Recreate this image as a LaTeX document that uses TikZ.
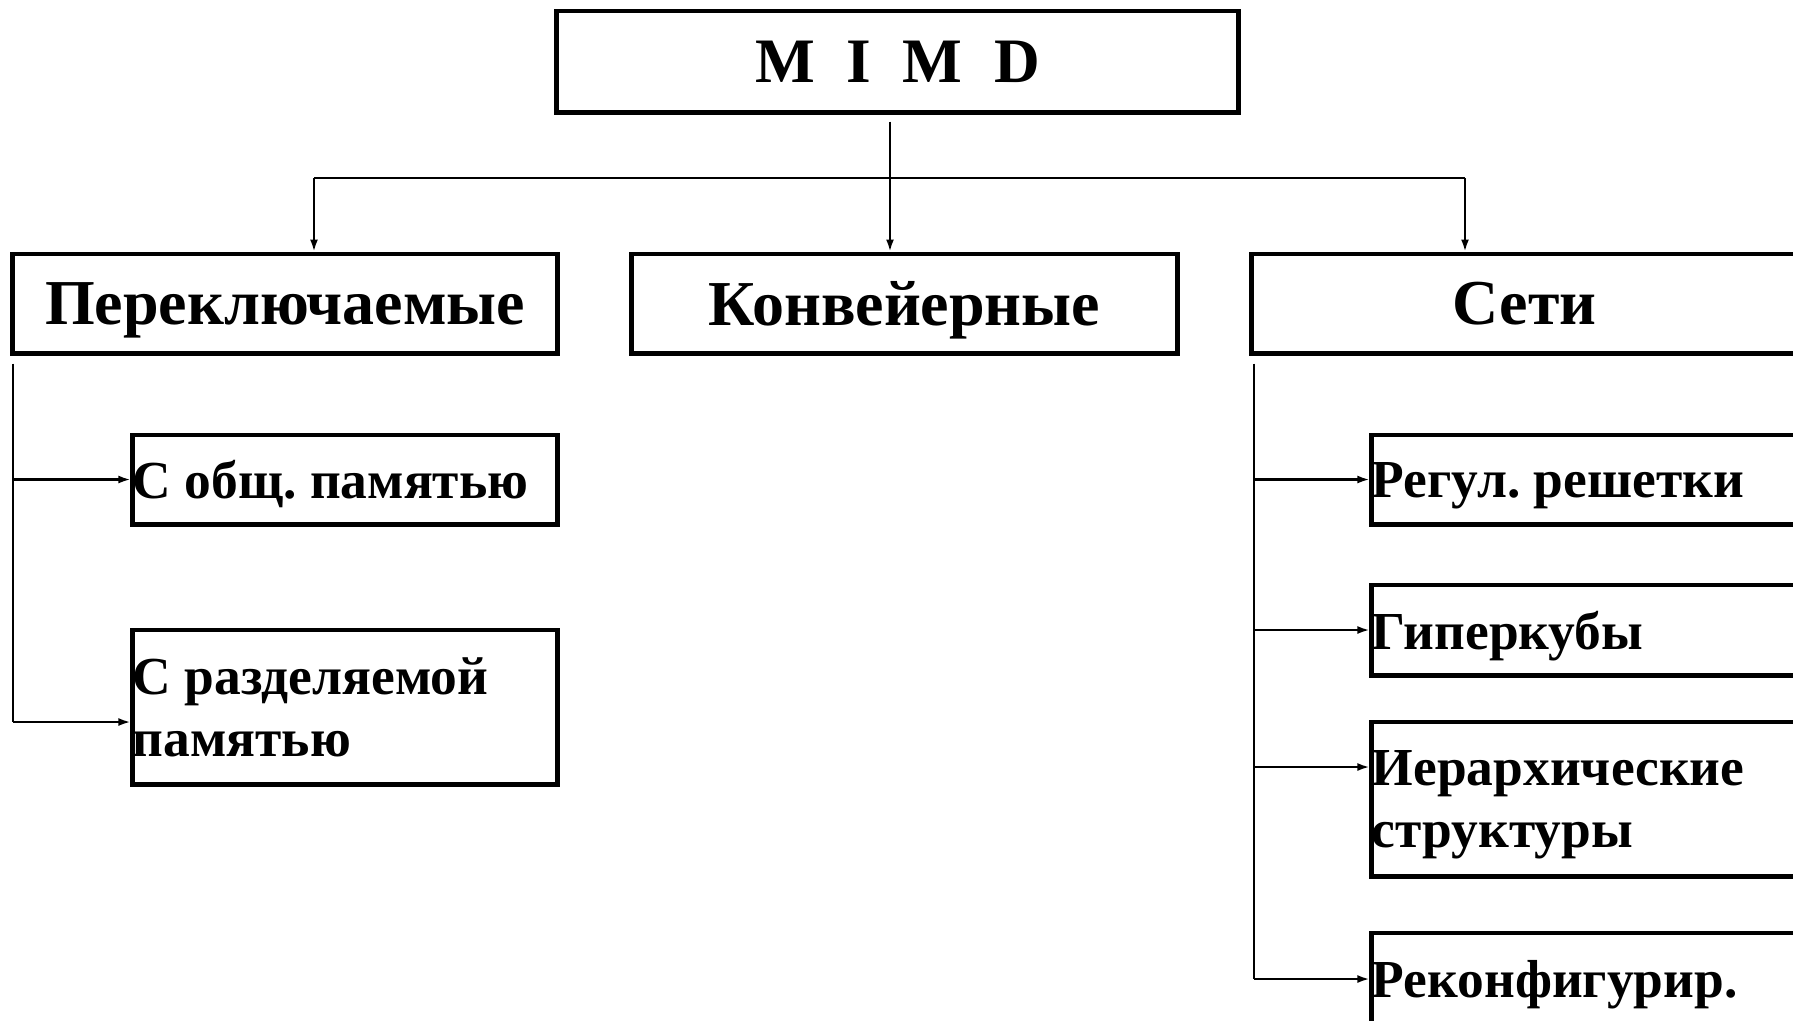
\documentclass[tikz,border=0pt]{standalone}
\usepackage{fontspec}
\setmainfont{Liberation Serif}
\usetikzlibrary{positioning,arrows.meta}

\begin{document}
\begin{tikzpicture}[x=0.01cm,y=-0.01cm,
  box/.style={draw,rectangle,line width=1.4pt,inner sep=0pt,
    font=\bfseries\frenchspacing\fontsize{18.2}{20}\selectfont},
  subbox/.style={box,align=flush left,minimum width=4.24cm,text width=4.24cm,
    font=\bfseries\frenchspacing\fontsize{15.2}{17.4}\selectfont},
  netbox/.style={subbox,minimum width=4.4cm,text width=4.4cm},
  oneline/.style={text depth=0pt},
  twoline/.style={text depth=17.4pt},
  link/.style={line width=0.6pt},
  arr/.style={link,-{Latex[length=0.12cm,width=0.08cm]}}]
    \useasboundingbox (0,0) rectangle (1793,1020);
    \clip (0,0) rectangle (1793,1020);
    \node (mimd)
      [box,oneline,minimum width=6.81cm,minimum height=1.01cm,
        font=\bfseries\fontsize{18}{20}\selectfont
      ] at (897.5,61.5) {M\hspace{0.5em}I\hspace{0.5em}M\hspace{0.5em}D};
    \node (perekl)
      [box,oneline,minimum width=5.44cm,minimum height=0.99cm] at (285,303.5) {Переключаемые};
    \node (konv)
      [box,oneline,minimum width=5.45cm,minimum height=0.99cm] at (904.5,303.5) {Конвейерные};
    \node (seti)
      [box,oneline,minimum width=5.45cm,minimum height=0.99cm] at (1524.5,303.5) {Сети};
    \node (obsh_mem)
      [subbox,oneline,minimum height=0.89cm] at (345,479.5) {С общ. памятью};
    \node (razd_mem)
      [subbox,twoline,minimum height=1.54cm] at (345,707) {С разделяемой\\памятью};
    \node (regul)
      [netbox,oneline,minimum height=0.89cm] at (1592,479.5) {Регул. решетки};
    \node (giper)
      [netbox,oneline,minimum height=0.90cm] at (1592,630) {Гиперкубы};
    \node (ierarh)
      [netbox,twoline,minimum height=1.54cm] at (1592,799) {Иерархические\\структуры};
    \node (rekonf)
      [netbox,oneline,minimum height=0.92cm] at (1592,979) {Реконфигурир.};
    % bus
    \coordinate (bus_left) at (314,178);
    \coordinate (bus_mid) at (890,178);
    \coordinate (bus_right) at (1465,178);
    \coordinate (trunk_left) at (13,722);
    \coordinate (trunk_right) at (1254,979);
    \draw [arr,shorten <=0.07cm] (mimd.south -| bus_mid) -- (konv.north -| bus_mid);
    \draw [link] (bus_left) -- (bus_right);
    \draw [arr] (bus_left) -- (bus_left |- perekl.north);
    \draw [arr] (bus_right) -- (bus_right |- seti.north);
    % left branch
    \draw [link] (trunk_left |- perekl.south) ++(0,8) -- (trunk_left);
    \draw [arr] (trunk_left |- obsh_mem.west) -- (obsh_mem.west);
    \draw [arr] (trunk_left) -- (trunk_left -| razd_mem.west);
    % right branch
    \draw [link] (trunk_right |- seti.south) ++(0,8) -- (trunk_right);
    \draw [arr] (trunk_right |- regul.west) -- (regul.west);
    \draw [arr] (trunk_right |- giper.west) -- (giper.west);
    \draw [arr] (trunk_right |- 0,767) -- (ierarh.west |- 0,767);
    \draw [arr] (trunk_right) -- (trunk_right -| rekonf.west);
\end{tikzpicture}
\end{document}
